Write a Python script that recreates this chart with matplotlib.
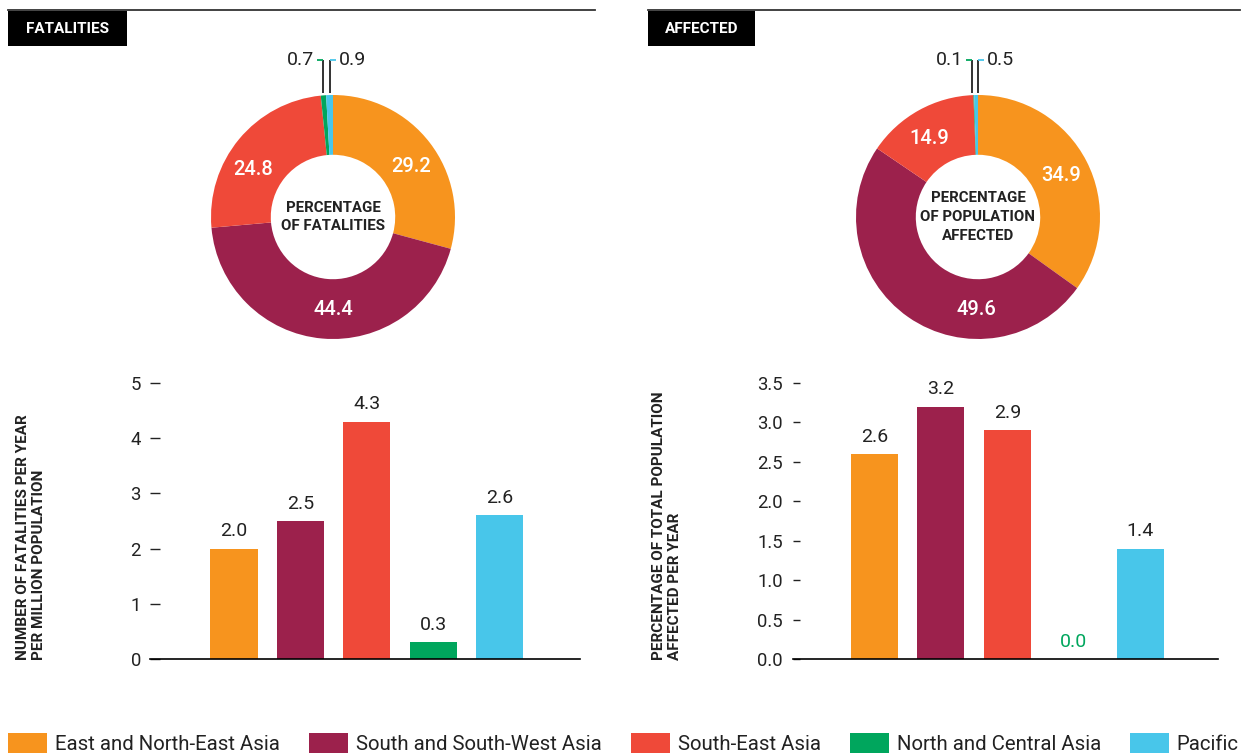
import matplotlib
matplotlib.use("Agg")
import matplotlib.pyplot as plt
import numpy as np

plt.rcParams['font.family'] = ['Roboto', 'DejaVu Sans']

# data
regions = ['East and North-East Asia', 'South and South-West Asia', 'South-East Asia',
           'North and Central Asia', 'Pacific']
region_colors = ['#F7941E', '#9C214C', '#EF4939', '#00A65D', '#48C6EA']
fatality_share = [29.2, 44.4, 24.8, 0.7, 0.9]
affected_share = [34.9, 49.6, 14.9, 0.1, 0.5]
fatality_rate = [2.0, 2.5, 4.3, 0.3, 2.6]
affected_rate = [2.6, 3.2, 2.9, 0.0, 1.4]
fatality_ticks = [0, 1, 2, 3, 4, 5]
affected_ticks = [0.0, 0.5, 1.0, 1.5, 2.0, 2.5, 3.0, 3.5]

# where the in-ring labels sit (degrees, as placed in the original)
fatality_label_angles = [33, -90, 149.5]
affected_label_angles = [26.6, -91, 121.7]

W, H = 1251, 754
TXT = '#222222'
fig = plt.figure(figsize=(W / 100, H / 100), dpi=100)


def px_axes(x0, y0, x1, y1):
    # axes from pixel box (top-left origin)
    return fig.add_axes([x0 / W, 1 - y1 / H, (x1 - x0) / W, (y1 - y0) / H])


def header(x0, x1, box_x1, title):
    fig.add_artist(plt.Line2D([x0 / W, x1 / W], [1 - 10 / H, 1 - 10 / H], color='#333333', lw=1.3))
    fig.add_artist(plt.Rectangle((x0 / W, 1 - 46 / H), (box_x1 - x0) / W, 35 / H,
                                 color='black', lw=0))
    fig.text((x0 + box_x1) / 2 / W, 1 - 29 / H, title, color='white', fontsize=11,
             fontweight='bold', ha='center', va='center')


def draw_pie(cx, cy, shares, label_angles, centre_text):
    R, lim = 122, 1.4
    ax = px_axes(cx - R * lim, cy - R * lim, cx + R * lim, cy + R * lim)
    wedges, _ = ax.pie(shares, colors=region_colors, startangle=90, counterclock=False,
                       wedgeprops=dict(width=0.49, edgecolor='none'))
    ax.set_xlim(-lim, lim)
    ax.set_ylim(-lim, lim)
    small = []
    for i, w in enumerate(wedges):
        if shares[i] >= 5:
            ang = np.deg2rad(label_angles[i])
            ax.text(0.76 * np.cos(ang), 0.76 * np.sin(ang), f'{shares[i]:.1f}',
                    color='white', fontsize=14.5, fontweight='medium', ha='center', va='center')
        else:
            ang = np.deg2rad((w.theta1 + w.theta2) / 2)
            small.append((i, np.cos(ang)))
    # small slices: leader lines going up, kept a little apart
    xs = [s[1] for s in small]
    if len(xs) == 2 and xs[1] - xs[0] < 0.045:
        mid = (xs[0] + xs[1]) / 2
        xs = [mid - 0.0225, mid + 0.0225]
    top = 1.29
    for k, ((i, _), x) in enumerate(zip(small, xs)):
        ax.plot([x, x], [np.sqrt(max(1 - x * x, 0)) + 0.02, top], color=TXT, lw=1.3,
                clip_on=False, solid_capstyle='butt')
        d = -1 if k == 0 else 1
        ax.plot([x, x + d * 0.05], [top, top], color=region_colors[i], lw=1.3,
                clip_on=False, solid_capstyle='butt')
        ax.text(x + d * 0.075, top, f'{shares[i]:.1f}', color=TXT, fontsize=14,
                ha='right' if d < 0 else 'left', va='center')
    ax.text(0, 0, centre_text, ha='center', va='center', fontsize=10.8,
            fontweight='bold', color=TXT, linespacing=1.42)


def draw_bars(x0, x1, bar0, values, ticks, fmt, tick_len, pad):
    ax = px_axes(x0, 383, x1, 659)
    x = np.arange(len(values))
    ax.bar(x, values, width=0.71, color=region_colors)
    for xi, v in zip(x, values):
        ax.annotate(f'{v:.1f}', (xi, v), xytext=(0, 6), textcoords='offset points',
                    ha='center', va='bottom', fontsize=14,
                    color=region_colors[3] if v == 0 else TXT)
    step = 66.4
    ax.set_ylim(ticks[0], ticks[-1])
    ax.set_xlim((x0 - bar0) / step, (x1 - bar0) / step)
    ax.set_yticks(ticks)
    ax.set_yticklabels([fmt.format(t) for t in ticks])
    ax.set_xticks([])
    for s in ['top', 'right', 'left']:
        ax.spines[s].set_visible(False)
    ax.spines['bottom'].set_color('black')
    ax.spines['bottom'].set_linewidth(1.2)
    ax.tick_params(axis='y', direction='in', length=tick_len, width=1, color=TXT,
                   labelcolor=TXT, labelsize=13.3, pad=pad)
    return ax


header(8, 595, 127, 'FATALITIES')
header(648, 1240, 755, 'AFFECTED')

draw_pie(333, 217, fatality_share, fatality_label_angles, 'PERCENTAGE\nOF FATALITIES')
draw_pie(978, 217, affected_share, affected_label_angles, 'PERCENTAGE\nOF POPULATION\nAFFECTED')

draw_bars(150, 580, 234, fatality_rate, fatality_ticks, '{:d}', 7.2, 6.5)
draw_bars(793, 1218, 874.5, affected_rate, affected_ticks, '{:.1f}', 5, 7.2)

fig.text(31 / W, 1 - 660 / H, 'NUMBER OF FATALITIES PER YEAR\nPER MILLION POPULATION',
         rotation=90, ha='center', va='bottom', multialignment='left', fontsize=11,
         fontweight='bold', color=TXT, linespacing=1.15)
fig.text(667 / W, 1 - 660 / H, 'PERCENTAGE OF TOTAL POPULATION\nAFFECTED PER YEAR',
         rotation=90, ha='center', va='bottom', multialignment='left', fontsize=11,
         fontweight='bold', color=TXT, linespacing=1.15)

# legend along the bottom
fs = 14.7
em = fs * 100 / 72
handles = [plt.Rectangle((0, 0), 1, 1, color=c, lw=0) for c in region_colors]
fig.legend(handles, regions, loc='lower left', bbox_to_anchor=(8 / W, 0), ncol=5,
           frameon=False, fontsize=fs, handlelength=39 / em, handleheight=23 / em,
           handletextpad=8 / em, columnspacing=29 / em, borderpad=0, borderaxespad=0,
           labelcolor=TXT)

fig.savefig('out.png', dpi=100)
